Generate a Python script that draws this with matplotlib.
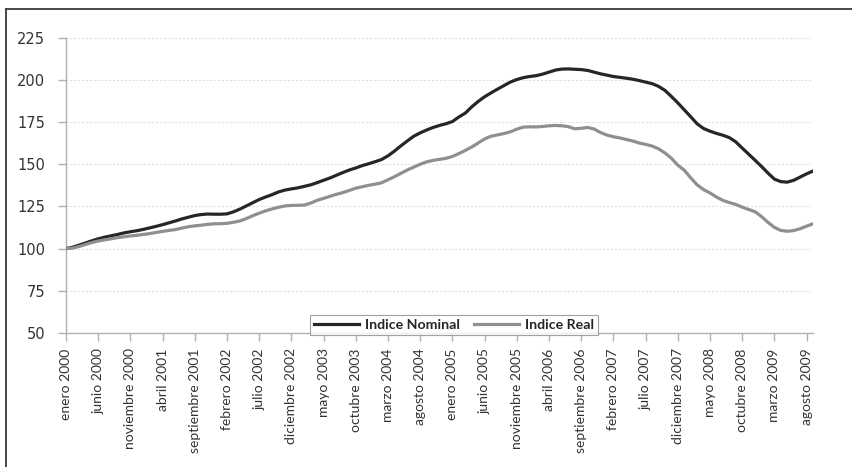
import matplotlib
matplotlib.use("Agg")
import matplotlib.pyplot as plt
import numpy as np
from matplotlib.lines import Line2D

# indices mensuales, base enero 2000 = 100 (enero 2000 .. septiembre 2009)
nominal = [
    100.0, 100.8, 102.0, 103.3, 104.6, 105.8, 106.8, 107.6, 108.4, 109.3,
    110.0, 110.6, 111.4, 112.3, 113.2, 114.2, 115.3, 116.4, 117.6, 118.6,
    119.6, 120.2, 120.5, 120.4, 120.4, 120.6, 121.8, 123.4, 125.3, 127.2,
    129.1, 130.6, 132.0, 133.6, 134.7, 135.4, 136.0, 136.9, 137.8, 139.1,
    140.5, 141.9, 143.5, 145.1, 146.6, 147.8, 149.2, 150.3, 151.5, 152.8,
    155.0, 157.8, 160.9, 163.8, 166.6, 168.6, 170.3, 171.8, 173.0, 174.0,
    175.3, 178.0, 180.3, 184.0, 187.2, 190.0, 192.3, 194.5, 196.6, 198.7,
    200.2, 201.3, 202.0, 202.5, 203.4, 204.6, 205.8, 206.4, 206.5, 206.3,
    206.1, 205.6, 204.6, 203.6, 202.8, 202.0, 201.5, 201.0, 200.4, 199.6,
    198.7, 197.8, 196.2, 193.8, 190.2, 186.4, 182.3, 178.2, 174.0, 171.2,
    169.6, 168.3, 167.2, 165.8, 163.3, 159.6, 156.0, 152.4, 148.7, 144.8,
    141.2, 139.7, 139.4, 140.5, 142.4, 144.3, 146.0,
]
real = [
    100.0, 100.3, 101.2, 102.4, 103.6, 104.5, 105.2, 105.8, 106.5, 107.0,
    107.5, 107.9, 108.4, 108.9, 109.6, 110.2, 110.8, 111.3, 112.2, 113.0,
    113.5, 113.9, 114.4, 114.7, 114.8, 115.0, 115.6, 116.4, 117.8, 119.5,
    121.0, 122.4, 123.5, 124.5, 125.3, 125.6, 125.7, 125.8, 127.0, 128.6,
    129.8, 131.0, 132.2, 133.2, 134.5, 135.8, 136.7, 137.5, 138.2, 139.0,
    140.8, 142.6, 144.6, 146.6, 148.3, 150.0, 151.4, 152.3, 152.9, 153.5,
    154.6, 156.3, 158.2, 160.2, 162.6, 165.0, 166.6, 167.4, 168.2, 169.2,
    170.8, 172.0, 172.2, 172.1, 172.4, 172.8, 173.0, 172.8, 172.3, 171.0,
    171.3, 171.8, 170.9, 168.8, 167.3, 166.3, 165.6, 164.7, 163.8, 162.6,
    161.8, 160.8, 159.2, 156.7, 153.6, 149.5, 146.5, 142.0, 137.8, 135.0,
    133.0, 130.6, 128.6, 127.3, 126.2, 124.6, 123.2, 121.9, 119.0, 115.6,
    112.6, 110.8, 110.3, 110.7, 111.8, 113.3, 114.7,
]

meses = ["enero", "febrero", "marzo", "abril", "mayo", "junio", "julio",
         "agosto", "septiembre", "octubre", "noviembre", "diciembre"]
etiquetas = ["%s %d" % (meses[i % 12], 2000 + i // 12) for i in range(len(nominal))]
yticks = [50, 75, 100, 125, 150, 175, 200, 225]

W, H = 852, 467
fig = plt.figure(figsize=(W / 100, H / 100), dpi=100)
ax = fig.add_axes([66 / W, 1 - 333 / H, (813 - 66) / W, (333 - 37.7) / H])

x = np.arange(len(nominal))
ax.plot(x, nominal, color="#262626", lw=2.3, label="Indice Nominal",
        solid_joinstyle="round", zorder=3)
ax.plot(x, real, color="#8f8f8f", lw=2.3, label="Indice Real",
        solid_joinstyle="round", zorder=3)

ax.set_xlim(0, len(nominal) - 1)
ax.set_ylim(50, 225)
ax.set_yticks(yticks)
ax.set_yticklabels([str(v) for v in yticks], fontsize=10.5, color="#333333",
                   family="DejaVu Sans")
pos = list(range(0, len(nominal), 5))
ax.set_xticks(pos)
ax.set_xticklabels([etiquetas[i] for i in pos], rotation=90, fontsize=10,
                   color="#333333", family="Lato")

for v in yticks[1:]:
    ax.axhline(v, color="#dcdcdc", lw=0.7, ls=(0, (2, 2)), zorder=1)

for s in ["top", "right"]:
    ax.spines[s].set_visible(False)
for s in ["left", "bottom"]:
    ax.spines[s].set_color("#b0b0b0")
    ax.spines[s].set_linewidth(1.0)
ax.tick_params(axis="both", color="#b0b0b0", length=6, width=1.0)
ax.tick_params(axis="y", pad=9)
ax.tick_params(axis="x", pad=5)

leg = ax.legend(loc="center", bbox_to_anchor=(454 / W, 1 - 325 / H),
                bbox_transform=fig.transFigure, ncol=2, frameon=True,
                fancybox=False, handlelength=3.2, handletextpad=0.4,
                columnspacing=1.0, borderpad=0.25,
                prop={"family": "Lato", "weight": "bold", "size": 10.2})
leg.get_frame().set_edgecolor("#8a8a8a")
leg.get_frame().set_linewidth(0.8)
for t in leg.get_texts():
    t.set_color("#262626")
leg.set_zorder(5)

# marco exterior
fig.add_artist(Line2D([6 / W, 1], [1 - 9 / H, 1 - 9 / H], color="#3a3a3a", lw=1.3))
fig.add_artist(Line2D([6 / W, 6 / W], [0, 1 - 9 / H], color="#3a3a3a", lw=1.3))

fig.savefig("out.png", dpi=100)
